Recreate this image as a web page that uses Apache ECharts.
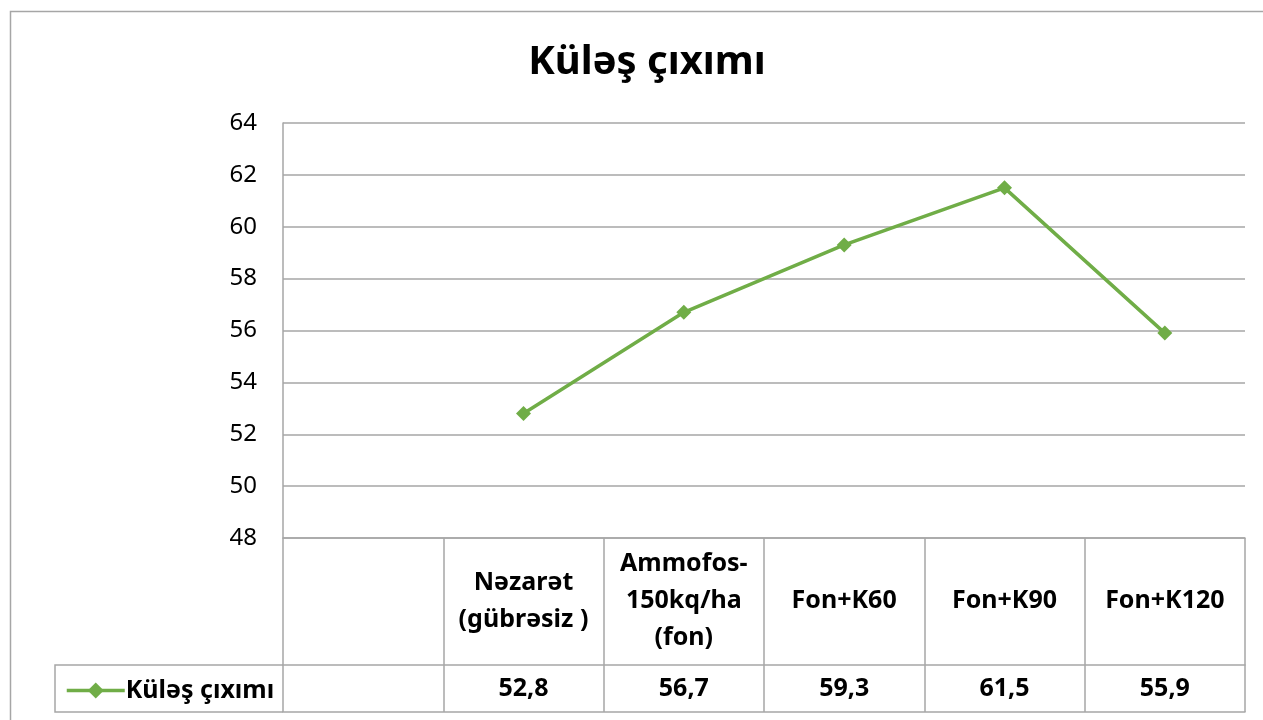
<!DOCTYPE html>
<html>
<head>
<meta charset="utf-8">
<script src="https://cdn.jsdelivr.net/npm/echarts@6/dist/echarts.min.js"></script>
<style>
html,body{margin:0;padding:0;background:#fff;}
#chart{width:1263px;height:720px;}
</style>
</head>
<body>
<div id="chart"></div>
<script>
const chartTitle = 'Küləş çıxımı';
const seriesName = 'Küləş çıxımı';
const categories = ['', 'Nəzarət\n(gübrəsiz )', 'Ammofos-\n150kq/ha\n(fon)', 'Fon+K60', 'Fon+K90', 'Fon+K120'];
const values = [null, 52.8, 56.7, 59.3, 61.5, 55.9];
const yMin = 48, yMax = 64, yStep = 2;

const FONT = '"Noto Sans", "Open Sans", sans-serif';
const GRID = '#a6a6a6';
const GREEN = '#70ad47';

function fmt(v) {
  return (v === null || v === undefined) ? '' : v.toFixed(1).replace('.', ',');
}

const chart = echarts.init(document.getElementById('chart'));
chart.setOption({
  animation: false,
  backgroundColor: '#fff',
  title: {
    text: chartTitle,
    left: 642,
    textAlign: 'center',
    top: 38,
    textStyle: { fontFamily: FONT, fontSize: 40, fontWeight: 'bold', color: '#000' }
  },
  legend: {
    left: 60,
    top: 673,
    itemWidth: 58,
    itemHeight: 20,
    itemGap: 0,
    lineStyle: { width: 3.5, color: GREEN },
    itemStyle: { color: GREEN },
    textStyle: { fontFamily: FONT, fontSize: 25, fontWeight: 'bold', color: '#000', padding: [0, 0, 0, -4] },
    data: [seriesName]
  },
  grid: { left: 283, right: 18, top: 123, bottom: 182, containLabel: false },
  xAxis: [
    {
      type: 'category',
      data: categories,
      boundaryGap: true,
      position: 'bottom',
      axisLine: { show: true, lineStyle: { color: GRID, width: 1.5 } },
      axisTick: { show: true, interval: 0, length: 127, lineStyle: { color: GRID, width: 1.5 } },
      axisLabel: {
        interval: 0,
        margin: 63,
        verticalAlign: 'middle',
        fontFamily: FONT, fontSize: 25, fontWeight: 'bold', color: '#000',
        lineHeight: 37
      },
      splitLine: { show: false }
    },
    {
      type: 'category',
      data: categories,
      boundaryGap: true,
      position: 'bottom',
      offset: 127,
      axisLine: { show: true, lineStyle: { color: GRID, width: 1.5 } },
      axisTick: { show: true, interval: 0, length: 47, lineStyle: { color: GRID, width: 1.5 } },
      axisLabel: {
        interval: 0,
        margin: 24,
        verticalAlign: 'middle',
        fontFamily: FONT, fontSize: 25, fontWeight: 'bold', color: '#000',
        formatter: function (v, i) { return fmt(values[i]); }
      },
      splitLine: { show: false }
    },
    {
      type: 'category',
      data: categories,
      boundaryGap: true,
      position: 'bottom',
      offset: 174,
      axisLine: { show: true, lineStyle: { color: GRID, width: 1.5 } },
      axisTick: { show: false },
      axisLabel: { show: false },
      splitLine: { show: false }
    }
  ],
  yAxis: {
    type: 'value',
    min: yMin,
    max: yMax,
    interval: yStep,
    axisLine: { show: true, lineStyle: { color: GRID, width: 1.5 } },
    axisTick: { show: false },
    axisLabel: { margin: 26, fontFamily: FONT, fontSize: 24, color: '#000' },
    splitLine: { show: true, lineStyle: { color: GRID, width: 1.5 } }
  },
  graphic: [
    {
      type: 'rect',
      shape: { x: 10.5, y: 11.5, width: 1400, height: 900 },
      style: { fill: 'none', stroke: GRID, lineWidth: 1.5 },
      silent: true, z: -1
    },
    {
      type: 'polyline',
      shape: { points: [[283, 665], [55, 665], [55, 712], [283, 712]] },
      style: { fill: 'none', stroke: GRID, lineWidth: 1.5 },
      silent: true
    }
  ],
  series: [
    {
      name: seriesName,
      type: 'line',
      xAxisIndex: 0,
      data: values,
      symbol: 'diamond',
      symbolSize: 15,
      connectNulls: false,
      lineStyle: { color: GREEN, width: 3.5 },
      itemStyle: { color: GREEN }
    }
  ]
});
</script>
</body>
</html>
